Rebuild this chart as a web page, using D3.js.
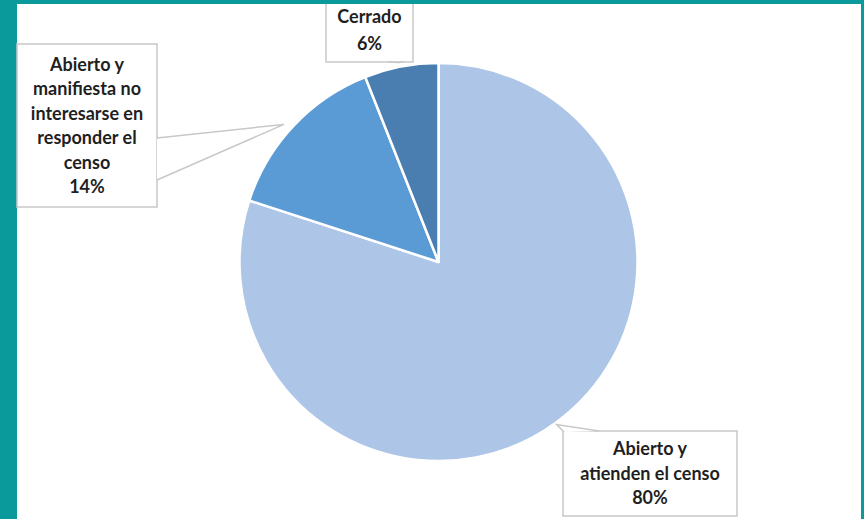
<!DOCTYPE html>
<html><head><meta charset="utf-8">
<script src="https://cdn.jsdelivr.net/npm/d3@7"></script>
<style>
html,body{margin:0;padding:0;background:#0a9a9c;}
svg{display:block;}
</style></head>
<body>
<script>
const categories = ["Abierto y atienden el censo", "Abierto y manifiesta no interesarse en responder el censo", "Cerrado"];
const values = [80, 14, 6];
const labelLines = [
  ["Abierto y", "atienden el censo", "80%"],
  ["Abierto y", "manifiesta no", "interesarse en", "responder el", "censo", "14%"],
  ["Cerrado", "6%"]
];
const colors = ["#adc5e6", "#5b9bd5", "#4a7db0"];

const W = 864, H = 519;
const svg = d3.select("body").append("svg").attr("width", W).attr("height", H);
svg.append("rect").attr("width", W).attr("height", H).attr("fill", "#0a9a9c");
svg.append("rect").attr("x", 17).attr("y", 4).attr("width", 844).attr("height", H - 4).attr("fill", "#ffffff");

const cx = 438.5, cy = 262, r = 199;
const pie = d3.pie().sort(null).value(d => d)(values);
const arc = d3.arc().innerRadius(0).outerRadius(r);
const g = svg.append("g").attr("transform", `translate(${cx},${cy})`);
g.selectAll("path").data(pie).join("path")
  .attr("d", arc)
  .attr("fill", (d, i) => colors[i])
  .attr("stroke", "#ffffff").attr("stroke-width", 2.5).attr("stroke-linejoin", "round");

// label boxes (layout)
const boxes = [
  {x: 563, y: 431, w: 174, h: 85, lineY: 455, dy: 24.5, base: [[563, 445], [563, 431], [600, 431]]},
  {x: 17, y: 44, w: 140, h: 163, lineY: 71, dy: 24.4, base: [[157, 138], [157, 180]]},
  {x: 326, y: -2, w: 87, h: 64, lineY: 23, dy: 27, base: [[388, 62], [404, 62]]}
];

boxes.forEach((b, i) => {
  const a = (pie[i].startAngle + pie[i].endAngle) / 2;
  const tip = [cx + (r + 2) * Math.sin(a), cy - (r + 2) * Math.cos(a)];
  const bg = svg.append("g");
  bg.append("rect").attr("x", b.x).attr("y", b.y).attr("width", b.w).attr("height", b.h)
    .attr("fill", "#ffffff").attr("stroke", "#c8c8c8").attr("stroke-width", 1.5);
  if (i === 0) {
    bg.append("path").attr("d", `M${b.x + 1},${b.y + 1} L${tip[0]},${tip[1]} L${b.x + 36},${b.y}`)
      .attr("fill", "#ffffff").attr("stroke", "#c8c8c8").attr("stroke-width", 1.5);
  } else if (i === 1) {
    bg.append("path").attr("d", `M${b.base[0][0]},${b.base[0][1]} L${tip[0] - 8},${tip[1]} L${b.base[1][0]},${b.base[1][1]}`)
      .attr("fill", "#ffffff").attr("stroke", "#c8c8c8").attr("stroke-width", 1.5);
  } else {
    bg.append("path").attr("d", `M${b.base[0][0]},${b.base[0][1]} L${tip[0] - 3},${tip[1] - 2} L${b.base[1][0]},${b.base[1][1]}`)
      .attr("fill", "#ffffff").attr("stroke", "#c8c8c8").attr("stroke-width", 1.5);
  }
  const t = bg.append("text").attr("text-anchor", "middle")
    .attr("font-family", "Lato, 'Open Sans', sans-serif").attr("font-weight", "bold")
    .attr("font-size", 18).attr("fill", "#1f1f1f");
  labelLines[i].forEach((ln, j) => {
    t.append("tspan").attr("x", b.x + b.w / 2).attr("y", b.lineY + j * b.dy).text(ln);
  });
});
svg.append("rect").attr("x", 0).attr("y", 0).attr("width", W).attr("height", 4).attr("fill", "#0a9a9c");
</script>
</body></html>
